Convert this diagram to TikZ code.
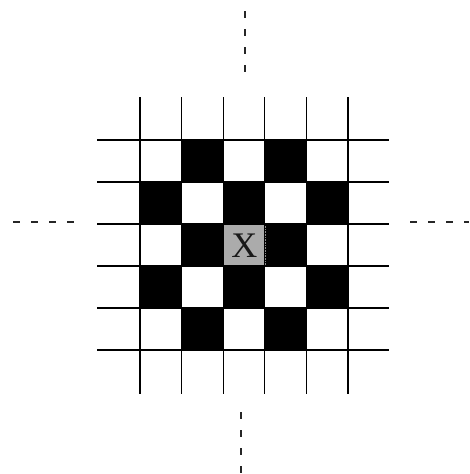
\documentclass[tikz,border=0pt]{standalone}
\usepackage{fontspec}
\newfontfamily\xfont{Liberation Serif}
\begin{document}
\begin{tikzpicture}[x=1pt,y=-1pt,
  gridline/.style={line width=1.3pt,black},
  dashline/.style={line width=1.8pt,black!85,dash pattern=on 7pt off 11pt},
  blackcell/.style={fill=black},
  graycell/.style={fill=black!33,draw=black!45,densely dotted,line width=0.6pt}]
\useasboundingbox (0,0) rectangle (469,474);
% cells
\def\cx#1{140+41.6*#1}
\def\cy#1{140+42*#1}
\foreach \c/\r in {1/0,3/0,0/1,2/1,4/1,1/2,3/2,0/3,2/3,4/3,1/4,3/4}{
  \fill[blackcell] ({\cx{\c}},{\cy{\r}}) rectangle ({\cx{(\c+1)}},{\cy{(\r+1)}});
}
\node[graycell,minimum width=41.6pt,minimum height=42pt,inner sep=0pt,anchor=north west]
  (xcell) at ({\cx{2}},{\cy{2}}) {};
\node[font=\xfont\fontsize{36}{36}\selectfont,inner sep=0pt,text=black!90] (xlabel) at (xcell.center) {X};
% grid
\foreach \i in {0,...,5}{
  \draw[gridline] ({\cx{\i}},97) -- ({\cx{\i}},394);
  \draw[gridline] (97,{\cy{\i}}) -- (389,{\cy{\i}});
}
% dashed axes
\coordinate (t1) at (245,11);
\coordinate (t2) at (245,76);
\coordinate (b1) at (241,412);
\coordinate (b2) at (241,474);
\coordinate (l1) at (13,222);
\coordinate (l2) at (76,222);
\coordinate (r1) at (410,222);
\coordinate (r2) at (469,222);
\draw[dashline] (t1) -- (t2);
\draw[dashline] (b1) -- (b2);
\draw[dashline] (l1) -- (l2);
\draw[dashline] (r1) -- (r2);
\end{tikzpicture}
\end{document}
